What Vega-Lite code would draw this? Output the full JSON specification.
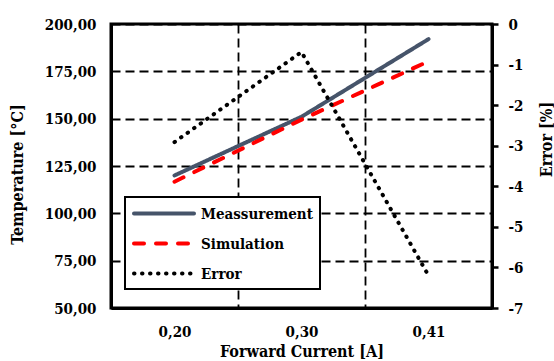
{
  "$schema": "https://vega.github.io/schema/vega-lite/v6.json",
  "width": 381,
  "height": 284,
  "autosize": {"type": "none"},
  "padding": {"left": 111, "top": 24, "right": 62, "bottom": 53},
  "background": "white",
  "data": {
    "values": [
      {"current": "0,20", "series": "Meassurement", "temp": 120},
      {"current": "0,30", "series": "Meassurement", "temp": 151},
      {"current": "0,41", "series": "Meassurement", "temp": 192},
      {"current": "0,20", "series": "Simulation", "temp": 116.7},
      {"current": "0,30", "series": "Simulation", "temp": 149.5},
      {"current": "0,41", "series": "Simulation", "temp": 180.3},
      {"current": "0,20", "series": "Error", "err": -2.91},
      {"current": "0,30", "series": "Error", "err": -0.69},
      {"current": "0,41", "series": "Error", "err": -6.2}
    ]
  },
  "encoding": {
    "x": {
      "field": "current",
      "type": "ordinal",
      "sort": ["0,20", "0,30", "0,41"],
      "bandPosition": 0.5,
      "scale": {"type": "band", "paddingInner": 0, "paddingOuter": 0},
      "axis": {
        "title": "Forward Current [A]",
        "tickBand": "extent",
        "grid": true,
        "ticks": false,
        "tickSize": 0,
        "labelAngle": 0,
        "labelPadding": 16,
        "titlePadding": 4
      }
    }
  },
  "layer": [
    {
      "transform": [{"filter": "datum.series !== 'Error'"}],
      "mark": {"type": "line", "strokeWidth": 4, "strokeCap": "round"},
      "encoding": {
        "y": {
          "field": "temp",
          "type": "quantitative",
          "scale": {"domain": [50, 200], "nice": false, "zero": false},
          "axis": {
            "orient": "left",
            "values": [50, 75, 100, 125, 150, 175, 200],
            "labelExpr": "replace(format(datum.value, '.2f'), '.', ',')",
            "ticks": false,
            "tickSize": 0,
            "labelPadding": 15,
            "grid": true,
            "title": "Temperature [°C]",
            "titleAngle": -90,
            "titleX": -86,
            "titleY": 150
          }
        },
        "color": {
          "field": "series",
          "type": "nominal",
          "scale": {"domain": ["Meassurement", "Simulation", "Error"], "range": ["#46546A", "#FF0000", "#000000"]},
          "legend": {
            "title": null,
            "orient": "none",
            "legendX": 14,
            "legendY": 173,
            "encode": {"symbols": {"update": {"strokeCap": {"value": "round"}}}}
          }
        },
        "strokeDash": {
          "field": "series",
          "type": "nominal",
          "scale": {"domain": ["Meassurement", "Simulation", "Error"], "range": [[1, 0], [10, 12], [0.5, 7.5]]},
          "legend": {
            "title": null,
            "orient": "none",
            "legendX": 14,
            "legendY": 173,
            "encode": {"symbols": {"update": {"strokeCap": {"value": "round"}}}}
          }
        }
      }
    },
    {
      "transform": [{"filter": "datum.series === 'Error'"}],
      "mark": {"type": "line", "strokeWidth": 4, "strokeCap": "round"},
      "encoding": {
        "y": {
          "field": "err",
          "type": "quantitative",
          "scale": {"domain": [-7, 0], "nice": false, "zero": false},
          "axis": {
            "orient": "right",
            "values": [-7, -6, -5, -4, -3, -2, -1, 0],
            "labelExpr": "datum.value < 0 ? '-' + (-datum.value) : '0'",
            "ticks": true,
            "tickSize": 6,
            "labelPadding": 10,
            "grid": false,
            "title": "Error [%]",
            "titleAngle": -90,
            "titleBaseline": "alphabetic",
            "titleX": 59,
            "titleY": 115
          }
        },
        "color": {"field": "series", "type": "nominal"},
        "strokeDash": {"field": "series", "type": "nominal"}
      }
    }
  ],
  "resolve": {"scale": {"y": "independent"}, "axis": {"y": "independent"}},
  "config": {
    "view": {"stroke": "black", "strokeWidth": 3},
    "axis": {
      "labelFont": "DejaVu Serif Condensed, DejaVu Serif",
      "labelFontWeight": "bold",
      "labelFontSize": 15,
      "labelColor": "black",
      "titleFont": "DejaVu Serif Condensed, DejaVu Serif",
      "titleFontWeight": "bold",
      "titleFontSize": 16,
      "titleColor": "black",
      "domainColor": "black",
      "domainWidth": 3,
      "gridColor": "black",
      "gridDash": [9, 5],
      "gridWidth": 1.8,
      "gridOpacity": 1,
      "tickColor": "black",
      "tickWidth": 2.5
    },
    "legend": {
      "labelFont": "DejaVu Serif Condensed, DejaVu Serif",
      "labelFontWeight": "bold",
      "labelFontSize": 15,
      "labelColor": "black",
      "labelOffset": 50,
      "symbolType": "M-1,0H7",
      "symbolSize": 225,
      "symbolStrokeWidth": 4,
      "rowPadding": 12,
      "padding": 7,
      "strokeColor": "black",
      "strokeWidth": 2,
      "fillColor": "white",
      "cornerRadius": 0
    }
  }
}
